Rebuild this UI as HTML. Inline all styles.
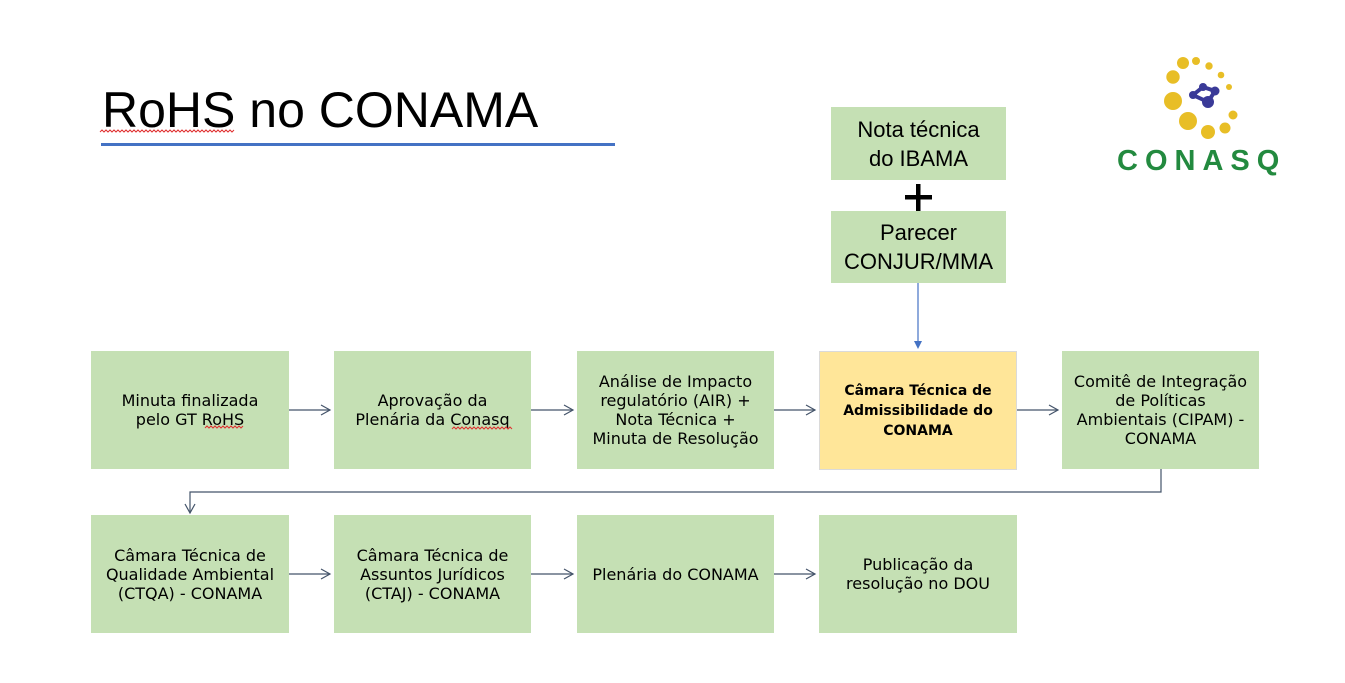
<!DOCTYPE html>
<html>
<head>
<meta charset="utf-8">
<style>
  html,body{margin:0;padding:0;background:#fff;}
  body{width:1345px;height:683px;position:relative;overflow:hidden;}
  .title{position:absolute;left:102px;top:80px;font-family:"Liberation Sans",sans-serif;font-size:50px;line-height:60px;color:#000;white-space:nowrap;}
  .box{position:absolute;background:#C5E0B4;display:flex;align-items:center;justify-content:center;text-align:center;
       font-family:"DejaVu Sans",sans-serif;font-size:16px;line-height:19px;color:#000;box-sizing:border-box;}
  .yel{background:#FFE699;border:1px solid #DADADA;font-weight:bold;font-size:14px;line-height:20px;}
  .top{font-family:"Liberation Sans",sans-serif;font-size:22px;line-height:29px;}
  .logo{position:absolute;left:1117px;top:145px;font-family:"Liberation Sans",sans-serif;font-weight:bold;font-size:29px;color:#238A3F;letter-spacing:7px;white-space:nowrap;}
</style>
</head>
<body>
<div class="title">RoHS no CONAMA</div>

<!-- top boxes -->
<div class="box top" style="left:831px;top:107px;width:175px;height:73px;">Nota técnica<br>do IBAMA</div>
<div class="box top" style="left:831px;top:211px;width:175px;height:72px;">Parecer<br>CONJUR/MMA</div>

<!-- row 1 -->
<div class="box" style="left:91px;top:351px;width:198px;height:118px;">Minuta finalizada<br>pelo GT RoHS</div>
<div class="box" style="left:334px;top:351px;width:197px;height:118px;">Aprovação da<br>Plenária da Conasq</div>
<div class="box" style="left:577px;top:351px;width:197px;height:118px;">Análise de Impacto<br>regulatório (AIR) +<br>Nota Técnica +<br>Minuta de Resolução</div>
<div class="box yel" style="left:819px;top:351px;width:198px;height:119px;">Câmara Técnica de<br>Admissibilidade do<br>CONAMA</div>
<div class="box" style="left:1062px;top:351px;width:197px;height:118px;">Comitê de Integração<br>de Políticas<br>Ambientais (CIPAM) -<br>CONAMA</div>

<!-- row 2 -->
<div class="box" style="left:91px;top:515px;width:198px;height:118px;">Câmara Técnica de<br>Qualidade Ambiental<br>(CTQA) - CONAMA</div>
<div class="box" style="left:334px;top:515px;width:197px;height:118px;">Câmara Técnica de<br>Assuntos Jurídicos<br>(CTAJ) - CONAMA</div>
<div class="box" style="left:577px;top:515px;width:197px;height:118px;">Plenária do CONAMA</div>
<div class="box" style="left:819px;top:515px;width:198px;height:118px;">Publicação da<br>resolução no DOU</div>

<div class="logo">CONASQ</div>

<svg width="1345" height="683" style="position:absolute;left:0;top:0;pointer-events:none;" xmlns="http://www.w3.org/2000/svg">
  <!-- title underline -->
  <rect x="101" y="143" width="514" height="3" fill="#4472C4"/>
  <!-- wavy red underlines -->
  <g fill="none" stroke="#E03030" stroke-width="1">
    <path d="M100 132 l2 -2 l2 2 l2 -2 l2 2 l2 -2 l2 2 l2 -2 l2 2 l2 -2 l2 2 l2 -2 l2 2 l2 -2 l2 2 l2 -2 l2 2 l2 -2 l2 2 l2 -2 l2 2 l2 -2 l2 2 l2 -2 l2 2 l2 -2 l2 2 l2 -2 l2 2 l2 -2 l2 2 l2 -2 l2 2 l2 -2 l2 2 l2 -2 l2 2 l2 -2 l2 2 l2 -2 l2 2 l2 -2 l2 2 l2 -2 l2 2 l2 -2 l2 2 l2 -2 l2 2 l2 -2 l2 2 l2 -2 l2 2 l2 -2 l2 2 l2 -2 l2 2 l2 -2 l2 2 l2 -2 l2 2 l2 -2 l2 2 l2 -2 l2 2 l2 -2 l2 2 l2 -2"/>
    <path d="M205 428 l2 -2 l2 2 l2 -2 l2 2 l2 -2 l2 2 l2 -2 l2 2 l2 -2 l2 2 l2 -2 l2 2 l2 -2 l2 2 l2 -2 l2 2 l2 -2 l2 2 l2 -2"/>
    <path d="M452 429 l2 -2 l2 2 l2 -2 l2 2 l2 -2 l2 2 l2 -2 l2 2 l2 -2 l2 2 l2 -2 l2 2 l2 -2 l2 2 l2 -2 l2 2 l2 -2 l2 2 l2 -2 l2 2 l2 -2 l2 2 l2 -2 l2 2 l2 -2 l2 2 l2 -2 l2 2 l2 -2 l2 2"/>
  </g>

  <!-- plus sign -->
  <rect x="905" y="195" width="27" height="4.5" fill="#000"/>
  <rect x="916" y="184" width="4.5" height="27" fill="#000"/>

  <!-- blue vertical arrow -->
  <line x1="918" y1="283" x2="918" y2="342" stroke="#4472C4" stroke-width="1.2"/>
  <polygon points="914,341 922,341 918,349" fill="#4472C4"/>

  <!-- horizontal arrows -->
  <g fill="none" stroke="#44546A" stroke-width="1.2">
    <line x1="289" y1="410" x2="330" y2="410"/><polyline points="321,405 330,410 321,415"/>
    <line x1="531" y1="410" x2="573" y2="410"/><polyline points="564,405 573,410 564,415"/>
    <line x1="774" y1="410" x2="815" y2="410"/><polyline points="806,405 815,410 806,415"/>
    <line x1="1017" y1="410" x2="1058" y2="410"/><polyline points="1049,405 1058,410 1049,415"/>

    <line x1="289" y1="574" x2="330" y2="574"/><polyline points="321,569 330,574 321,579"/>
    <line x1="531" y1="574" x2="573" y2="574"/><polyline points="564,569 573,574 564,579"/>
    <line x1="774" y1="574" x2="815" y2="574"/><polyline points="806,569 815,574 806,579"/>

    <!-- elbow connector -->
    <polyline points="1161,469 1161,492 190,492 190,513"/>
    <polyline points="185,504 190,513 195,504"/>
  </g>

  <!-- logo -->
  <g fill="#E8BE26">
    <circle cx="1183" cy="63" r="6"/>
    <circle cx="1196" cy="61" r="4"/>
    <circle cx="1209" cy="66" r="3.7"/>
    <circle cx="1221" cy="75" r="3.3"/>
    <circle cx="1229" cy="87" r="3"/>
    <circle cx="1173" cy="77" r="6.7"/>
    <circle cx="1173" cy="101" r="9"/>
    <circle cx="1188" cy="121" r="9"/>
    <circle cx="1208" cy="132" r="7"/>
    <circle cx="1225" cy="128" r="5.5"/>
    <circle cx="1233" cy="115" r="4.5"/>
  </g>
  <g fill="#3A3A98" stroke="#3A3A98">
    <polygon points="1193,95 1203,87 1215,91 1208,102" fill="none" stroke-width="4"/>
    <circle cx="1193" cy="95" r="4" stroke="none"/>
    <circle cx="1203" cy="87" r="4" stroke="none"/>
    <circle cx="1215" cy="91" r="4.5" stroke="none"/>
    <circle cx="1208" cy="102" r="6" stroke="none"/>
  </g>
</svg>
</body>
</html>
